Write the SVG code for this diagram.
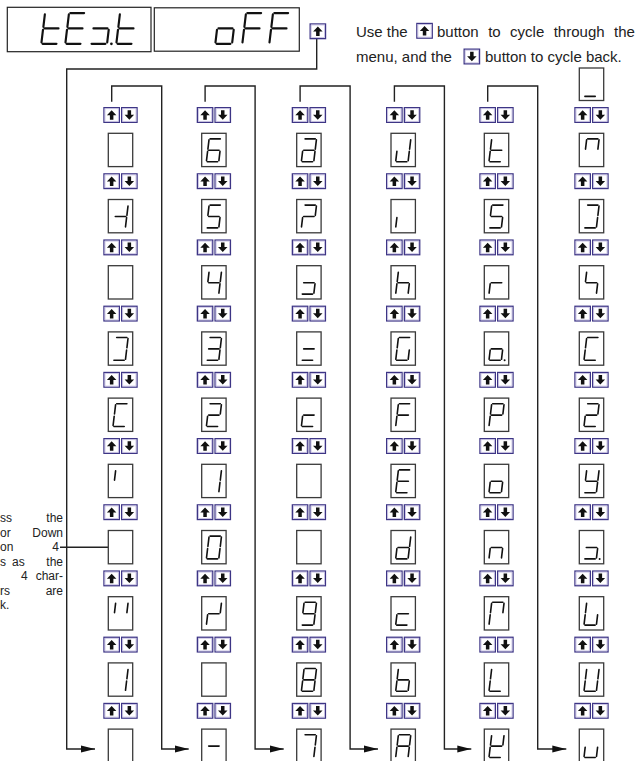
<svg xmlns="http://www.w3.org/2000/svg" xmlns:xlink="http://www.w3.org/1999/xlink" width="639" height="761" viewBox="0 0 639 761">
<style>
.seg{stroke:#111;stroke-width:1.6;stroke-linecap:round;fill:none}
.dp{fill:#111}
.bx{fill:#fff;stroke:#3a3a3a;stroke-width:1.3}
.big{fill:#fff;stroke:#222;stroke-width:1.2}
.bo{fill:#fff;stroke:#3d3585;stroke-width:1.3}
.bi{fill:none;stroke:#c3bde0;stroke-width:0.8}
.ar{fill:#111}
.ln{fill:none;stroke:#222;stroke-width:1.4}
.tx{font-family:"Liberation Sans",Arial,sans-serif;font-size:15px;fill:#222}
.sm{font-family:"Liberation Sans",Arial,sans-serif;font-size:12px;fill:#222}
</style>
<defs>
<path id="sa" class="seg" d="M8.4 5.6H18.6"/>
<path id="sb" class="seg" d="M19.7 6.6L18.6 15.9"/>
<path id="sc" class="seg" d="M18.3 18.1L17.2 27.4"/>
<path id="sd" class="seg" d="M5.6 28.4H15.9"/>
<path id="se" class="seg" d="M5.9 18.1L4.8 27.4"/>
<path id="sf" class="seg" d="M7.3 6.6L6.2 15.9"/>
<path id="sg" class="seg" d="M7 17H17.4"/>
<circle id="sp" class="dp" cx="20.3" cy="28.4" r="1"/>
<g id="bu">
<rect class="bo" x="0.65" y="0.65" width="15.4" height="14.7"/>
<rect class="bi" x="1.7" y="1.7" width="13.3" height="12.6"/>
<path class="ar" d="M3.6 8.3L8.35 3.3L13.1 8.3H10.1V12.8H6.6V8.3Z"/>
</g>
<g id="bd">
<rect class="bo" x="0.65" y="0.65" width="15.4" height="14.7"/>
<rect class="bi" x="1.7" y="1.7" width="13.3" height="12.6"/>
<path class="ar" d="M3.6 7.7L8.35 12.7L13.1 7.7H10.1V3.2H6.6V7.7Z"/>
</g>
<g id="bp"><use href="#bu"/><use href="#bd" x="17.7"/></g>
<marker id="ah" markerUnits="userSpaceOnUse" markerWidth="14" markerHeight="8" refX="14" refY="4" orient="auto">
<path d="M0 0.4L14 4L0 7.6Z" fill="#111"/>
</marker>
</defs>
<rect width="639" height="761" fill="#fff"/>

<g id="connectors">
<path class="ln" marker-end="url(#ah)" d="M316.7 38.5V69H66.7V749H95"/>
<path class="ln" marker-end="url(#ah)" d="M111.7 101.7V86H161.7V749H188.7"/>
<path class="ln" marker-end="url(#ah)" d="M205.1 101.7V86H255.1V749H283.7"/>
<path class="ln" marker-end="url(#ah)" d="M300.1 101.7V86H350.1V749H378"/>
<path class="ln" marker-end="url(#ah)" d="M394.4 101.7V86H444.4V749H471.3"/>
<path class="ln" marker-end="url(#ah)" d="M487.7 101.7V86H537.7V749H566.3"/>
<path class="ln" d="M60 547.3H108.3"/>
</g>

<g id="display">
<rect class="big" x="7.3" y="7.3" width="143.7" height="44.4"/>
<rect class="big" x="154.3" y="7.8" width="145" height="43.4"/>
<g transform="translate(35,5.5) scale(1.35)"><use href="#sf"/><use href="#se"/><use href="#sg"/><use href="#sd"/></g>
<g transform="translate(59,5.5) scale(1.35)"><use href="#sa"/><use href="#sf"/><use href="#sg"/><use href="#se"/><use href="#sd"/></g>
<g transform="translate(84,5.5) scale(1.35)"><use href="#sg"/><use href="#sc"/><use href="#sd"/><use href="#sp"/></g>
<g transform="translate(110,5.5) scale(1.35)"><use href="#sf"/><use href="#se"/><use href="#sg"/><use href="#sd"/></g>
<g transform="translate(209,5.5) scale(1.35)"><use href="#sg"/><use href="#sc"/><use href="#sd"/><use href="#se"/></g>
<g transform="translate(236,5.5) scale(1.35)"><use href="#sa"/><use href="#sf"/><use href="#sg"/><use href="#se"/></g>
<g transform="translate(263,5.5) scale(1.35)"><use href="#sa"/><use href="#sf"/><use href="#sg"/><use href="#se"/></g>
</g>
<g id="start-button"><use href="#bu" x="309.5" y="23.3"/></g>

<g id="note-top">
<text class="tx" y="36.5"><tspan x="356">Use the</tspan></text>
<use href="#bu" x="416.2" y="22.8"/>
<text class="tx" y="36.5"><tspan x="437">button</tspan><tspan x="488.2">to</tspan><tspan x="510.1">cycle</tspan><tspan x="553.7">through</tspan><tspan x="614.1">the</tspan></text>
<text class="tx" x="356" y="62">menu, and the</text>
<use href="#bd" x="463.5" y="48.5"/>
<text class="tx" x="485" y="62">button to cycle back.</text>
</g>

<g id="note-left">
<text class="sm" y="522.3"><tspan x="0">ss</tspan><tspan x="46.3">the</tspan></text>
<text class="sm" y="536.8"><tspan x="0">or</tspan><tspan x="32.3">Down</tspan></text>
<text class="sm" y="551.3"><tspan x="0">on</tspan><tspan x="52.3">4</tspan></text>
<text class="sm" y="565.8"><tspan x="0">s</tspan><tspan x="12">as</tspan><tspan x="46.3">the</tspan></text>
<text class="sm" y="580.3"><tspan x="21">4</tspan><tspan x="35.7">char-</tspan></text>
<text class="sm" y="594.8"><tspan x="0">rs</tspan><tspan x="45.7">are</tspan></text>
<text class="sm" y="609.3"><tspan x="0">k.</tspan></text>
</g>

<g id="buttons">
<use href="#bp" x="103.3" y="107"/><use href="#bp" x="103.3" y="173.2"/><use href="#bp" x="103.3" y="239.4"/><use href="#bp" x="103.3" y="305.6"/><use href="#bp" x="103.3" y="371.8"/><use href="#bp" x="103.3" y="438"/><use href="#bp" x="103.3" y="504.2"/><use href="#bp" x="103.3" y="570.4"/><use href="#bp" x="103.3" y="636.6"/><use href="#bp" x="103.3" y="702.8"/>
<use href="#bp" x="196.7" y="107"/><use href="#bp" x="196.7" y="173.2"/><use href="#bp" x="196.7" y="239.4"/><use href="#bp" x="196.7" y="305.6"/><use href="#bp" x="196.7" y="371.8"/><use href="#bp" x="196.7" y="438"/><use href="#bp" x="196.7" y="504.2"/><use href="#bp" x="196.7" y="570.4"/><use href="#bp" x="196.7" y="636.6"/><use href="#bp" x="196.7" y="702.8"/>
<use href="#bp" x="291.7" y="107"/><use href="#bp" x="291.7" y="173.2"/><use href="#bp" x="291.7" y="239.4"/><use href="#bp" x="291.7" y="305.6"/><use href="#bp" x="291.7" y="371.8"/><use href="#bp" x="291.7" y="438"/><use href="#bp" x="291.7" y="504.2"/><use href="#bp" x="291.7" y="570.4"/><use href="#bp" x="291.7" y="636.6"/><use href="#bp" x="291.7" y="702.8"/>
<use href="#bp" x="386" y="107"/><use href="#bp" x="386" y="173.2"/><use href="#bp" x="386" y="239.4"/><use href="#bp" x="386" y="305.6"/><use href="#bp" x="386" y="371.8"/><use href="#bp" x="386" y="438"/><use href="#bp" x="386" y="504.2"/><use href="#bp" x="386" y="570.4"/><use href="#bp" x="386" y="636.6"/><use href="#bp" x="386" y="702.8"/>
<use href="#bp" x="479.3" y="107"/><use href="#bp" x="479.3" y="173.2"/><use href="#bp" x="479.3" y="239.4"/><use href="#bp" x="479.3" y="305.6"/><use href="#bp" x="479.3" y="371.8"/><use href="#bp" x="479.3" y="438"/><use href="#bp" x="479.3" y="504.2"/><use href="#bp" x="479.3" y="570.4"/><use href="#bp" x="479.3" y="636.6"/><use href="#bp" x="479.3" y="702.8"/>
<use href="#bp" x="574.3" y="107"/><use href="#bp" x="574.3" y="173.2"/><use href="#bp" x="574.3" y="239.4"/><use href="#bp" x="574.3" y="305.6"/><use href="#bp" x="574.3" y="371.8"/><use href="#bp" x="574.3" y="438"/><use href="#bp" x="574.3" y="504.2"/><use href="#bp" x="574.3" y="570.4"/><use href="#bp" x="574.3" y="636.6"/><use href="#bp" x="574.3" y="702.8"/>
</g>

<!-- column 1 -->
<g id="c1r1" transform="translate(108.3,133.3)"><rect class="bx" width="24.4" height="33.3"/></g>
<g id="c1r2" transform="translate(108.3,199.5)"><rect class="bx" width="24.4" height="33.3"/><use href="#sg"/><use href="#sb"/><use href="#sc"/></g>
<g id="c1r3" transform="translate(108.3,265.7)"><rect class="bx" width="24.4" height="33.3"/></g>
<g id="c1r4" transform="translate(108.3,331.9)"><rect class="bx" width="24.4" height="33.3"/><use href="#sa"/><use href="#sb"/><use href="#sc"/><use href="#sd"/></g>
<g id="c1r5" transform="translate(108.3,398.1)"><rect class="bx" width="24.4" height="33.3"/><use href="#sa"/><use href="#sf"/><use href="#se"/><use href="#sd"/></g>
<g id="c1r6" transform="translate(108.3,464.3)"><rect class="bx" width="24.4" height="33.3"/><use href="#sf"/></g>
<g id="c1r7" transform="translate(108.3,530.5)"><rect class="bx" width="24.4" height="33.3"/></g>
<g id="c1r8" transform="translate(108.3,596.7)"><rect class="bx" width="24.4" height="33.3"/><use href="#sf"/><use href="#sb"/></g>
<g id="c1r9" transform="translate(108.3,662.9)"><rect class="bx" width="24.4" height="33.3"/><use href="#sb"/><use href="#sc"/></g>
<g id="c1r10" transform="translate(108.3,729.1)"><rect class="bx" width="24.4" height="33.3"/></g>

<!-- column 2 -->
<g id="c2r1" transform="translate(201.7,133.3)"><rect class="bx" width="24.4" height="33.3"/><use href="#sa"/><use href="#sf"/><use href="#sg"/><use href="#se"/><use href="#sd"/><use href="#sc"/></g>
<g id="c2r2" transform="translate(201.7,199.5)"><rect class="bx" width="24.4" height="33.3"/><use href="#sa"/><use href="#sf"/><use href="#sg"/><use href="#sc"/><use href="#sd"/></g>
<g id="c2r3" transform="translate(201.7,265.7)"><rect class="bx" width="24.4" height="33.3"/><use href="#sf"/><use href="#sg"/><use href="#sb"/><use href="#sc"/></g>
<g id="c2r4" transform="translate(201.7,331.9)"><rect class="bx" width="24.4" height="33.3"/><use href="#sa"/><use href="#sb"/><use href="#sg"/><use href="#sc"/><use href="#sd"/></g>
<g id="c2r5" transform="translate(201.7,398.1)"><rect class="bx" width="24.4" height="33.3"/><use href="#sa"/><use href="#sb"/><use href="#sg"/><use href="#se"/><use href="#sd"/></g>
<g id="c2r6" transform="translate(201.7,464.3)"><rect class="bx" width="24.4" height="33.3"/><use href="#sb"/><use href="#sc"/></g>
<g id="c2r7" transform="translate(201.7,530.5)"><rect class="bx" width="24.4" height="33.3"/><use href="#sa"/><use href="#sb"/><use href="#sc"/><use href="#sd"/><use href="#se"/><use href="#sf"/></g>
<g id="c2r8" transform="translate(201.7,596.7)"><rect class="bx" width="24.4" height="33.3"/><use href="#sb"/><use href="#sg"/><use href="#se"/></g>
<g id="c2r9" transform="translate(201.7,662.9)"><rect class="bx" width="24.4" height="33.3"/></g>
<g id="c2r10" transform="translate(201.7,729.1)"><rect class="bx" width="24.4" height="33.3"/><use href="#sg"/></g>

<!-- column 3 -->
<g id="c3r1" transform="translate(296.7,133.3)"><rect class="bx" width="24.4" height="33.3"/><use href="#sa"/><use href="#sb"/><use href="#sc"/><use href="#sd"/><use href="#se"/><use href="#sg"/></g>
<g id="c3r2" transform="translate(296.7,199.5)"><rect class="bx" width="24.4" height="33.3"/><use href="#sa"/><use href="#sb"/><use href="#sg"/><use href="#se"/></g>
<g id="c3r3" transform="translate(296.7,265.7)"><rect class="bx" width="24.4" height="33.3"/><use href="#sg"/><use href="#sc"/><use href="#sd"/></g>
<g id="c3r4" transform="translate(296.7,331.9)"><rect class="bx" width="24.4" height="33.3"/><use href="#sg"/><use href="#sd"/></g>
<g id="c3r5" transform="translate(296.7,398.1)"><rect class="bx" width="24.4" height="33.3"/><use href="#sg"/><use href="#se"/><use href="#sd"/></g>
<g id="c3r6" transform="translate(296.7,464.3)"><rect class="bx" width="24.4" height="33.3"/></g>
<g id="c3r7" transform="translate(296.7,530.5)"><rect class="bx" width="24.4" height="33.3"/></g>
<g id="c3r8" transform="translate(296.7,596.7)"><rect class="bx" width="24.4" height="33.3"/><use href="#sa"/><use href="#sb"/><use href="#sc"/><use href="#sd"/><use href="#sf"/><use href="#sg"/></g>
<g id="c3r9" transform="translate(296.7,662.9)"><rect class="bx" width="24.4" height="33.3"/><use href="#sa"/><use href="#sb"/><use href="#sc"/><use href="#sd"/><use href="#se"/><use href="#sf"/><use href="#sg"/></g>
<g id="c3r10" transform="translate(296.7,729.1)"><rect class="bx" width="24.4" height="33.3"/><use href="#sa"/><use href="#sb"/><use href="#sc"/></g>

<!-- column 4 -->
<g id="c4r1" transform="translate(391,133.3)"><rect class="bx" width="24.4" height="33.3"/><use href="#sb"/><use href="#sc"/><use href="#sd"/><use href="#se"/></g>
<g id="c4r2" transform="translate(391,199.5)"><rect class="bx" width="24.4" height="33.3"/><use href="#se"/></g>
<g id="c4r3" transform="translate(391,265.7)"><rect class="bx" width="24.4" height="33.3"/><use href="#sf"/><use href="#se"/><use href="#sg"/><use href="#sc"/></g>
<g id="c4r4" transform="translate(391,331.9)"><rect class="bx" width="24.4" height="33.3"/><use href="#sa"/><use href="#sf"/><use href="#se"/><use href="#sd"/><use href="#sc"/></g>
<g id="c4r5" transform="translate(391,398.1)"><rect class="bx" width="24.4" height="33.3"/><use href="#sa"/><use href="#sf"/><use href="#sg"/><use href="#se"/></g>
<g id="c4r6" transform="translate(391,464.3)"><rect class="bx" width="24.4" height="33.3"/><use href="#sa"/><use href="#sf"/><use href="#sg"/><use href="#se"/><use href="#sd"/></g>
<g id="c4r7" transform="translate(391,530.5)"><rect class="bx" width="24.4" height="33.3"/><use href="#sb"/><use href="#sc"/><use href="#sd"/><use href="#se"/><use href="#sg"/></g>
<g id="c4r8" transform="translate(391,596.7)"><rect class="bx" width="24.4" height="33.3"/><use href="#sg"/><use href="#se"/><use href="#sd"/></g>
<g id="c4r9" transform="translate(391,662.9)"><rect class="bx" width="24.4" height="33.3"/><use href="#sf"/><use href="#se"/><use href="#sd"/><use href="#sc"/><use href="#sg"/></g>
<g id="c4r10" transform="translate(391,729.1)"><rect class="bx" width="24.4" height="33.3"/><use href="#sa"/><use href="#sb"/><use href="#sc"/><use href="#se"/><use href="#sf"/><use href="#sg"/></g>

<!-- column 5 -->
<g id="c5r1" transform="translate(484.3,133.3)"><rect class="bx" width="24.4" height="33.3"/><use href="#sf"/><use href="#se"/><use href="#sg"/><use href="#sd"/></g>
<g id="c5r2" transform="translate(484.3,199.5)"><rect class="bx" width="24.4" height="33.3"/><use href="#sa"/><use href="#sf"/><use href="#sg"/><use href="#sc"/><use href="#sd"/></g>
<g id="c5r3" transform="translate(484.3,265.7)"><rect class="bx" width="24.4" height="33.3"/><use href="#se"/><use href="#sg"/></g>
<g id="c5r4" transform="translate(484.3,331.9)"><rect class="bx" width="24.4" height="33.3"/><use href="#sg"/><use href="#sc"/><use href="#sd"/><use href="#se"/><use href="#sp"/></g>
<g id="c5r5" transform="translate(484.3,398.1)"><rect class="bx" width="24.4" height="33.3"/><use href="#sa"/><use href="#sb"/><use href="#sf"/><use href="#sg"/><use href="#se"/></g>
<g id="c5r6" transform="translate(484.3,464.3)"><rect class="bx" width="24.4" height="33.3"/><use href="#sg"/><use href="#sc"/><use href="#sd"/><use href="#se"/></g>
<g id="c5r7" transform="translate(484.3,530.5)"><rect class="bx" width="24.4" height="33.3"/><use href="#se"/><use href="#sg"/><use href="#sc"/></g>
<g id="c5r8" transform="translate(484.3,596.7)"><rect class="bx" width="24.4" height="33.3"/><use href="#sa"/><use href="#sb"/><use href="#se"/><use href="#sf"/></g>
<g id="c5r9" transform="translate(484.3,662.9)"><rect class="bx" width="24.4" height="33.3"/><use href="#sf"/><use href="#se"/><use href="#sd"/></g>
<g id="c5r10" transform="translate(484.3,729.1)"><rect class="bx" width="24.4" height="33.3"/><use href="#sb"/><use href="#sd"/><use href="#se"/><use href="#sf"/><use href="#sg"/></g>

<!-- column 6 -->
<g id="c6r0" transform="translate(579.3,68)"><rect class="bx" width="24.4" height="32.5"/><use href="#sd"/></g>
<g id="c6r1" transform="translate(579.3,133.3)"><rect class="bx" width="24.4" height="33.3"/><use href="#sa"/><use href="#sb"/><use href="#sf"/></g>
<g id="c6r2" transform="translate(579.3,199.5)"><rect class="bx" width="24.4" height="33.3"/><use href="#sa"/><use href="#sb"/><use href="#sc"/><use href="#sd"/></g>
<g id="c6r3" transform="translate(579.3,265.7)"><rect class="bx" width="24.4" height="33.3"/><use href="#sf"/><use href="#sg"/><use href="#sc"/></g>
<g id="c6r4" transform="translate(579.3,331.9)"><rect class="bx" width="24.4" height="33.3"/><use href="#sa"/><use href="#sf"/><use href="#se"/><use href="#sd"/></g>
<g id="c6r5" transform="translate(579.3,398.1)"><rect class="bx" width="24.4" height="33.3"/><use href="#sa"/><use href="#sb"/><use href="#sg"/><use href="#se"/><use href="#sd"/></g>
<g id="c6r6" transform="translate(579.3,464.3)"><rect class="bx" width="24.4" height="33.3"/><use href="#sf"/><use href="#sg"/><use href="#sb"/><use href="#sc"/><use href="#sd"/></g>
<g id="c6r7" transform="translate(579.3,530.5)"><rect class="bx" width="24.4" height="33.3"/><use href="#sg"/><use href="#sc"/><use href="#sd"/><use href="#sp"/></g>
<g id="c6r8" transform="translate(579.3,596.7)"><rect class="bx" width="24.4" height="33.3"/><use href="#sf"/><use href="#se"/><use href="#sd"/><use href="#sc"/></g>
<g id="c6r9" transform="translate(579.3,662.9)"><rect class="bx" width="24.4" height="33.3"/><use href="#sf"/><use href="#se"/><use href="#sd"/><use href="#sc"/><use href="#sb"/></g>
<g id="c6r10" transform="translate(579.3,729.1)"><rect class="bx" width="24.4" height="33.3"/><use href="#se"/><use href="#sd"/><use href="#sc"/></g>
</svg>
